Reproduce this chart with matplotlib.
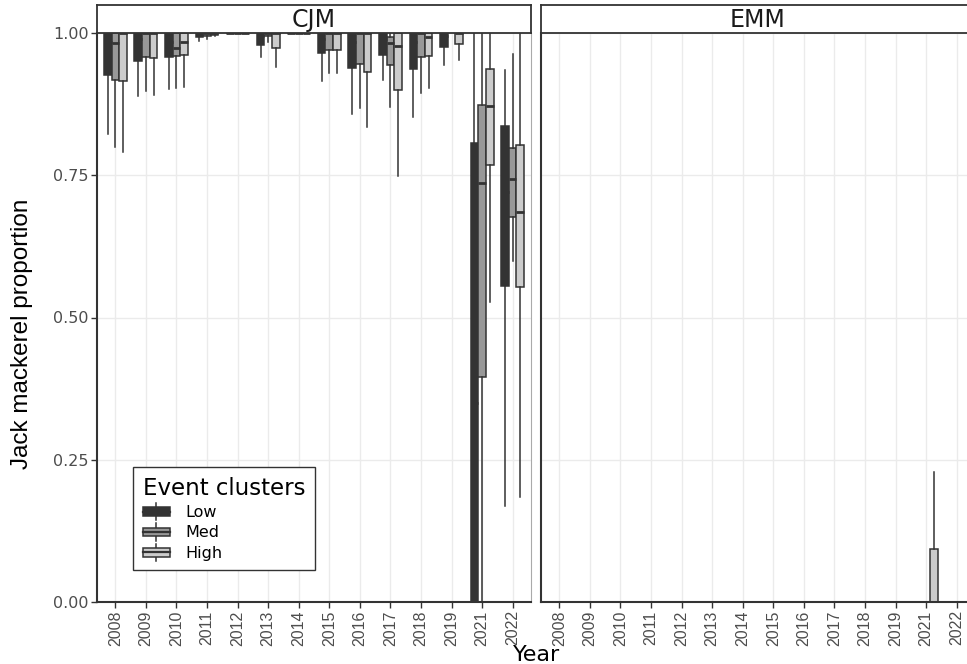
import matplotlib
matplotlib.use("Agg")
import matplotlib.pyplot as plt
from matplotlib.legend_handler import HandlerBase
from matplotlib.patches import Rectangle, Patch
from matplotlib.lines import Line2D

years = [2008, 2009, 2010, 2011, 2012, 2013, 2014, 2015, 2016, 2017, 2018, 2019, 2021, 2022]
clusters = ["Low", "Med", "High"]
fills = ["#333333", "#989898", "#cccccc"]

# (lower whisker, q1, median, q3, upper whisker) for each year, None = no data
cjm_low = [
    (0.822, 0.926, 0.985, 1.0, 1.0),
    (0.889, 0.951, 0.990, 1.0, 1.0),
    (0.902, 0.958, 0.985, 1.0, 1.0),
    (0.986, 0.993, 0.998, 1.0, 1.0),
    (1.0, 1.0, 1.0, 1.0, 1.0),
    (0.958, 0.979, 0.995, 1.0, 1.0),
    (1.0, 1.0, 1.0, 1.0, 1.0),
    (0.916, 0.965, 0.990, 1.0, 1.0),
    (0.857, 0.939, 0.985, 1.0, 1.0),
    (0.917, 0.961, 0.990, 1.0, 1.0),
    (0.852, 0.937, 0.985, 1.0, 1.0),
    (0.944, 0.976, 0.995, 1.0, 1.0),
    (0.0, 0.0, 0.350, 0.807, 1.0),
    (0.169, 0.555, 0.720, 0.837, 0.935),
]
cjm_med = [
    (0.800, 0.917, 0.982, 1.0, 1.0),
    (0.898, 0.958, 1.0, 1.0, 1.0),
    (0.904, 0.960, 0.974, 1.0, 1.0),
    (0.990, 0.995, 1.0, 1.0, 1.0),
    (1.0, 1.0, 1.0, 1.0, 1.0),
    (0.985, 0.995, 1.0, 1.0, 1.0),
    (1.0, 1.0, 1.0, 1.0, 1.0),
    (0.930, 0.971, 1.0, 1.0, 1.0),
    (0.869, 0.945, 1.0, 1.0, 1.0),
    (0.870, 0.943, 0.983, 0.993, 1.0),
    (0.894, 0.957, 1.0, 1.0, 1.0),
    None,
    (0.0, 0.395, 0.736, 0.873, 1.0),
    (0.600, 0.677, 0.743, 0.798, 0.963),
]
cjm_high = [
    (0.791, 0.916, 1.0, 1.0, 1.0),
    (0.891, 0.956, 1.0, 1.0, 1.0),
    (0.905, 0.961, 0.985, 1.0, 1.0),
    (0.995, 0.997, 1.0, 1.0, 1.0),
    (1.0, 1.0, 1.0, 1.0, 1.0),
    (0.940, 0.974, 1.0, 1.0, 1.0),
    (1.0, 1.0, 1.0, 1.0, 1.0),
    (0.930, 0.971, 1.0, 1.0, 1.0),
    (0.834, 0.932, 1.0, 1.0, 1.0),
    (0.749, 0.899, 0.978, 1.0, 1.0),
    (0.903, 0.960, 0.993, 1.0, 1.0),
    (0.953, 0.980, 1.0, 1.0, 1.0),
    (0.527, 0.768, 0.872, 0.937, 1.0),
    (0.185, 0.553, 0.685, 0.803, 1.0),
]
emm_low = [None] * 12 + [(0.0, 0.0, 0.0, 0.0, 0.0), (0.0, 0.0, 0.0, 0.0, 0.0)]
emm_med = [None] * 12 + [(0.0, 0.0, 0.0, 0.0, 0.0), (0.0, 0.0, 0.0, 0.0, 0.0)]
emm_high = [None] * 12 + [(0.0, 0.0, 0.0, 0.093, 0.228), (0.0, 0.0, 0.0, 0.0, 0.0)]

panels = [("CJM", [cjm_low, cjm_med, cjm_high]),
          ("EMM", [emm_low, emm_med, emm_high])]

W, H = 967, 664
narrow = "Liberation Sans"
edge = "#333333"
tick_col = "#4d4d4d"

fig = plt.figure(figsize=(W / 100, H / 100), dpi=100)


def px_box(x0, y0, x1, y1):
    return [x0 / W, 1 - y1 / H, (x1 - x0) / W, (y1 - y0) / H]


offsets = [-0.25, 0.0, 0.25]
lefts = [97, 541]
axes = []
for (name, groups), left in zip(panels, lefts):
    ax = fig.add_axes(px_box(left, 33, left + 434, 602))
    axes.append(ax)
    for g, (series, fc, off) in enumerate(zip(groups, fills, offsets)):
        stats, pos = [], []
        for i, s in enumerate(series):
            if s is None:
                continue
            lo, q1, med, q3, hi = s
            stats.append(dict(whislo=lo, q1=q1, med=med, q3=q3, whishi=hi))
            pos.append(i + off)
        ax.bxp(stats, positions=pos, widths=0.25, patch_artist=True,
               showcaps=False, showfliers=False, manage_ticks=False,
               boxprops=dict(facecolor=fc, edgecolor=edge, linewidth=1.1),
               whiskerprops=dict(color=edge, linewidth=1.1),
               medianprops=dict(color=edge, linewidth=2.0))

    ax.set_xlim(-0.6, len(years) - 0.4)
    ax.set_ylim(0, 1)
    ax.set_xticks(range(len(years)))
    ax.set_xticklabels([str(y) for y in years], rotation=90,
                       family=narrow, fontsize=11.5, color=tick_col)
    ax.set_yticks([0, 0.25, 0.5, 0.75, 1.0])
    ax.grid(True, color="#ebebeb", linewidth=1.0)
    ax.set_axisbelow(True)
    ax.tick_params(axis="both", length=4, width=1, color=edge, pad=2)
    ax.tick_params(axis="y", labelsize=11.5, labelcolor=tick_col)
    ax.spines["top"].set_visible(False)
    ax.spines["left"].set_color(edge)
    ax.spines["bottom"].set_color(edge)
    ax.spines["left"].set_linewidth(1.5)
    ax.spines["bottom"].set_linewidth(1.5)
    ax.spines["right"].set_color("#aaaaaa")

    # facet strip
    sax = fig.add_axes(px_box(left, 5, left + 434, 33))
    sax.set_xticks([])
    sax.set_yticks([])
    for sp in sax.spines.values():
        sp.set_color(edge)
        sp.set_linewidth(1.3)
    sax.text(0.5, 0.45, name, ha="center", va="center", fontsize=17,
             color="#1a1a1a", transform=sax.transAxes)

axes[0].set_yticklabels(["0.00", "0.25", "0.50", "0.75", "1.00"])
axes[1].tick_params(axis="y", left=False, labelleft=False)

fig.text(22 / W, 1 - 334 / H, "Jack mackerel proportion", rotation=90,
         ha="center", va="center", family=narrow, fontsize=17.5, color="black")
fig.text(537 / W, 1 - 661 / H, "Year", ha="center", va="baseline",
         fontsize=16, color="black")


class BoxKey(HandlerBase):
    def create_artists(self, legend, orig_handle, xdescent, ydescent,
                       width, height, fontsize, trans):
        fc = orig_handle.get_facecolor()
        x0, y0 = -xdescent, -ydescent
        whisk = Line2D([x0 + width / 2] * 2, [y0 - 0.1 * height, y0 + 1.1 * height],
                       color=edge, lw=1.1, transform=trans)
        box = Rectangle((x0, y0 + 0.2 * height), width, 0.6 * height,
                        facecolor=fc, edgecolor=edge, lw=1.1, transform=trans)
        med = Line2D([x0, x0 + width], [y0 + height / 2] * 2,
                     color=edge, lw=1.6, transform=trans)
        return [whisk, box, med]


handles = [Patch(facecolor=c, edgecolor=edge) for c in fills]
leg = axes[0].legend(handles, clusters, title="Event clusters",
                     handler_map={Patch: BoxKey()},
                     loc="upper left", bbox_to_anchor=(133 / W, 1 - 467 / H),
                     bbox_transform=fig.transFigure, borderaxespad=0,
                     fontsize=11.5, title_fontsize=16.5, alignment="left",
                     handlelength=1.7, handleheight=1.0, handletextpad=1.0,
                     labelspacing=0.3, borderpad=0.6, fancybox=False,
                     framealpha=1, edgecolor=edge)
leg.get_frame().set_linewidth(1.0)

fig.savefig("out.png", dpi=100)
